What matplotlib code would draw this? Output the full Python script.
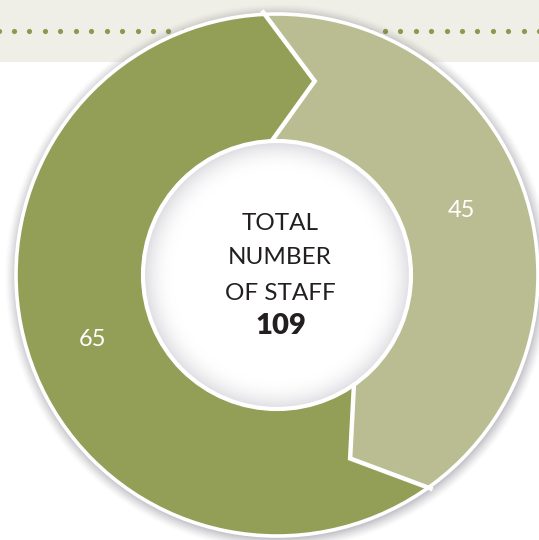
import numpy as np
import matplotlib
matplotlib.use("Agg")
import matplotlib.pyplot as plt
from matplotlib.patches import Polygon, Circle, FancyBboxPatch

# Staff breakdown
values = [45, 65]
value_labels = ["45", "65"]
colors = ["#BABD91", "#939E57"]
center_lines = ["TOTAL", "NUMBER", "OF STAFF"]
total_label = "109"

W, H = 539, 540
fig = plt.figure(figsize=(W / 100, H / 100), dpi=100)
ax = fig.add_axes([0, 0, 1, 1])
ax.set_xlim(0, W)
ax.set_ylim(H, 0)
ax.set_aspect("equal")
ax.axis("off")

# header band with dotted rule
band = FancyBboxPatch((-10, -10), W + 20, 72, boxstyle="round,pad=0,rounding_size=4",
                      fc="#F0EFE7", ec="none", zorder=0)
ax.add_patch(band)
dots_x = np.arange(-1.5, W + 10, 15.45)
ax.scatter(dots_x, np.full_like(dots_x, 31), s=14, color="#8C9A50", lw=0, zorder=1)

cx, cy = 277, 275
r_out, r_in = 261, 134
r_mid = (r_out + r_in) / 2
kink = 14.0  # chevron offset of each boundary, degrees


def pt(r, deg):
    a = np.deg2rad(deg)
    return cx + r * np.cos(a), cy - r * np.sin(a)


def chevron_wedge(t0, t1):
    """Ring segment from angle t0 clockwise to t1 with chevron-shaped edges."""
    arc_o = np.linspace(t0, t1, 200)
    arc_i = np.linspace(t1, t0, 200)
    pts = [pt(r_out, a) for a in arc_o]
    pts += [pt(r_mid, t1 - kink), pt(r_in, t1)]
    pts += [pt(r_in, a) for a in arc_i]
    pts += [pt(r_mid, t0 - kink)]
    return pts


# soft drop shadow around the ring
for i, a in enumerate(np.linspace(0.012, 0.05, 12)):
    ax.add_patch(Circle((cx + 1, cy + 2), r_out + 12 - i, fc="#5a5a66", ec="none",
                        alpha=a, zorder=2))

total = sum(values)
start = 93.0
bounds = []
t = start
for v, c, lab in zip(values, colors, value_labels):
    span = 360.0 * v / total
    t_end = t - span
    ax.add_patch(Polygon(chevron_wedge(t, t_end), closed=True, fc=c, ec="none", zorder=3))
    mid = (t + t_end) / 2
    lx, ly = pt(196, mid)
    ax.text(lx, ly, lab, color="white", fontsize=17, fontfamily="Lato",
            fontweight="normal", ha="center", va="center", zorder=6)
    bounds.append(t)
    t = t_end

# white separators between segments
for b in bounds:
    xs, ys = zip(pt(r_in - 2, b), pt(r_mid, b - kink), pt(r_out + 2, b))
    ax.plot(xs, ys, color="white", lw=3.2, solid_joinstyle="miter", zorder=4)

# outer white rim
ax.add_patch(Circle((cx, cy), r_out, fc="none", ec="white", lw=2.6, zorder=5))

# centre disc with inner shading
yy, xx = np.mgrid[0:H, 0:W]
dist = np.hypot(xx - cx, yy - cy)
shade = np.clip((dist - (r_in - 30)) / 30, 0, 1) ** 2
img = np.ones((H, W, 3)) - shade[..., None] * np.array([0.14, 0.14, 0.12])
disc = Circle((cx, cy), r_in, fc="white", ec="none", zorder=5)
ax.add_patch(disc)
im = ax.imshow(img, extent=(0, W, H, 0), zorder=5.5, interpolation="bilinear")
im.set_clip_path(disc)
ax.add_patch(Circle((cx, cy), r_in, fc="none", ec="white", lw=3, zorder=6))
ax.set_xlim(0, W)
ax.set_ylim(H, 0)

for i, line in enumerate(center_lines):
    ax.text(cx + 3, 223 + 35 * i, line, color="#231F20", fontsize=17.5, fontfamily="Lato",
            fontweight="normal", ha="center", va="center", zorder=7)
ax.text(cx + 4, 326, total_label, color="#231F20", fontsize=21, fontfamily="Lato",
        fontweight="heavy", ha="center", va="center", zorder=7)

fig.savefig("out.png", dpi=100, facecolor="white")
